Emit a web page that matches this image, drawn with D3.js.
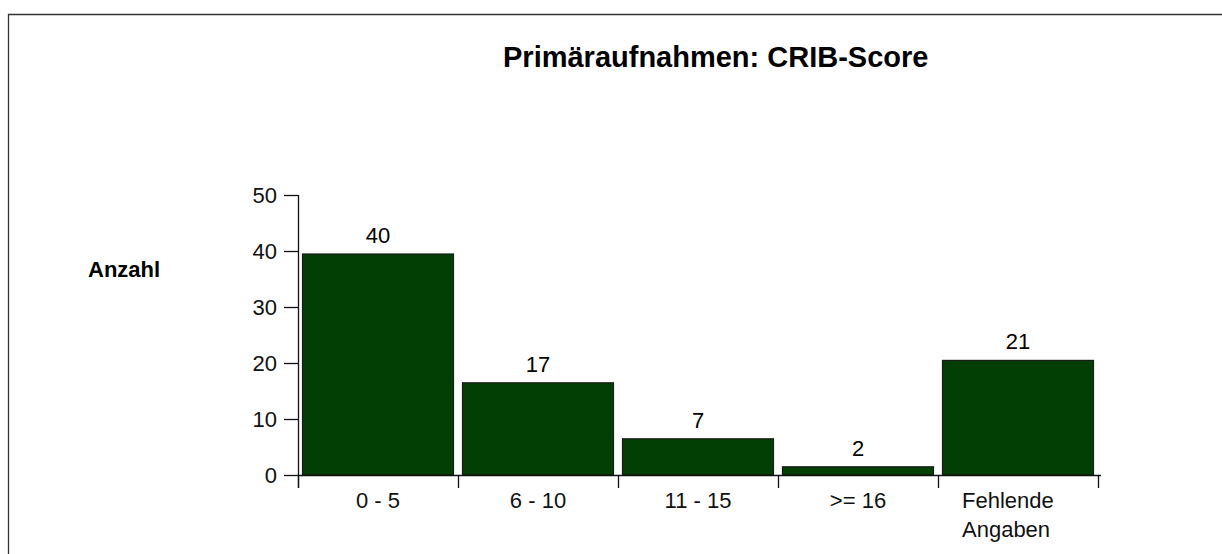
<!DOCTYPE html>
<html>
<head>
<meta charset="utf-8">
<script src="https://cdn.jsdelivr.net/npm/d3@7"></script>
<style>
  body { margin: 0; background: #fff; }
  svg { display: block; font-family: "Liberation Sans", Arial, sans-serif; }
</style>
</head>
<body>
<div id="chart"></div>
<script>
// data
var categories = ["0 - 5", "6 - 10", "11 - 15", ">= 16", "Fehlende Angaben"];
var counts = [40, 17, 7, 2, 21];
var yTicks = [0, 10, 20, 30, 40, 50];
var chartTitle = "Primäraufnahmen: CRIB-Score";
var yLabel = "Anzahl";

var width = 1222, height = 554;
var barFill = "#023f04";

var svg = d3.select("#chart").append("svg")
  .attr("width", width).attr("height", height);

// frame (top + left)
svg.append("path")
  .attr("d", "M8.5," + height + "V14.5H" + width)
  .attr("fill", "none").attr("stroke", "#333").attr("stroke-width", 1.3);

var x = d3.scaleBand().domain(categories).range([298, 1098]).padding(0);
var y = d3.scaleLinear().domain([0, 50]).range([475, 195]);

// title
svg.append("text")
  .attr("x", 503).attr("y", 67)
  .attr("font-size", 29).attr("font-weight", "bold")
  .text(chartTitle);

svg.append("text")
  .attr("x", 88).attr("y", 277)
  .attr("font-size", 22).attr("font-weight", "bold")
  .text(yLabel);

// bars
var inset = 4.5, drop = 3;
svg.append("g").selectAll("rect").data(counts).enter()
  .append("rect")
  .attr("x", function(d, i){ return x(categories[i]) + inset; })
  .attr("width", x.bandwidth() - inset * 2)
  .attr("y", function(d){ return y(d) + drop; })
  .attr("height", function(d){ return y(0) - y(d) - drop; })
  .attr("fill", barFill)
  .attr("stroke", "#1a1a1a").attr("stroke-width", 1.2);

// value labels
svg.append("g").selectAll("text").data(counts).enter()
  .append("text")
  .attr("x", function(d, i){ return x(categories[i]) + x.bandwidth() / 2; })
  .attr("y", function(d){ return y(d) + drop - 11; })
  .attr("text-anchor", "middle")
  .attr("font-size", 22)
  .text(function(d){ return d; });

// y axis
var yAxis = svg.append("g")
  .attr("transform", "translate(298,0)")
  .call(d3.axisLeft(y).tickValues(yTicks).tickSize(14).tickPadding(7).tickFormat(d3.format("d")));
yAxis.select(".domain").attr("d", "M0.5," + y(50) + "V488").attr("stroke", "#111").attr("stroke-width", 1.3);
yAxis.selectAll(".tick line").attr("stroke", "#111").attr("stroke-width", 1.3);
yAxis.selectAll(".tick text").attr("font-size", 22).attr("font-family", null).attr("fill", "#111");

// x axis
var xAxis = svg.append("g").attr("transform", "translate(0," + y(0) + ")");
xAxis.append("line")
  .attr("x1", 298).attr("x2", 1101).attr("y1", 0.5).attr("y2", 0.5)
  .attr("stroke", "#111").attr("stroke-width", 1.3);
var edges = categories.map(function(c){ return x(c); }).concat([x.range()[1]]);
xAxis.selectAll("line.tk").data(edges).enter()
  .append("line").attr("class", "tk")
  .attr("x1", function(d){ return d + 0.5; }).attr("x2", function(d){ return d + 0.5; })
  .attr("y1", 0).attr("y2", 13)
  .attr("stroke", "#111").attr("stroke-width", 1.3);

categories.forEach(function(c){
  var words = c.indexOf(" - ") < 0 && c.indexOf(" ") > 0 && c.indexOf(">=") < 0 ? c.split(" ") : [c];
  var t = xAxis.append("text").attr("font-size", 22).attr("fill", "#111");
  if (words.length > 1) {
    t.attr("x", x(c) + 24).attr("text-anchor", "start");
  } else {
    t.attr("x", x(c) + x.bandwidth() / 2).attr("text-anchor", "middle");
  }
  words.forEach(function(w, j){
    t.append("tspan").attr("x", t.attr("x")).attr("y", 33 + j * 29).text(w);
  });
});
</script>
</body>
</html>
